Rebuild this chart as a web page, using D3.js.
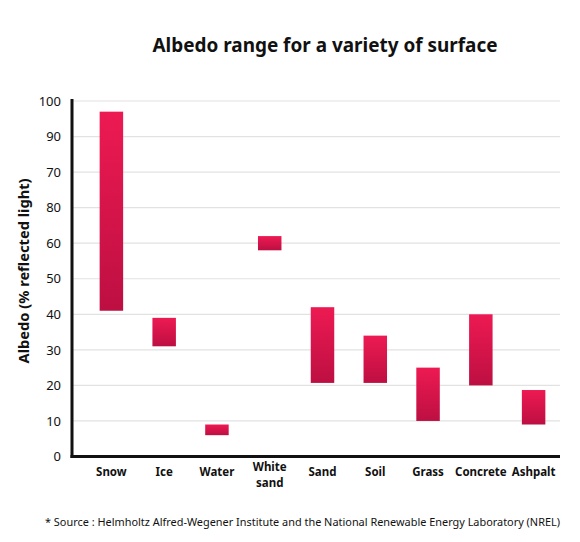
<!DOCTYPE html>
<html>
<head>
<meta charset="utf-8">
<script src="https://cdn.jsdelivr.net/npm/d3@7"></script>
<style>
  body { margin: 0; background: #fff; }
  svg text { font-family: "Noto Sans", "Open Sans", sans-serif; fill: #111; }
</style>
</head>
<body>
<div id="chart"></div>
<script>
// surfaces and their albedo ranges (% reflected light)
const surfaces = ["Snow", "Ice", "Water", "White sand", "Sand", "Soil", "Grass", "Concrete", "Ashpalt"];
const lowValues = [41, 31, 6, 58, 20.7, 20.7, 10, 20, 9];
const highValues = [97, 39, 9, 62, 42, 34, 25, 40, 18.7];

// tick labels exactly as printed on the original (70 and 80 swapped there)
const tickValues = [0, 10, 20, 30, 40, 50, 60, 70, 80, 90, 100];
const tickLabels = ["0", "10", "20", "30", "40", "50", "60", "80", "70", "90", "100"];

const width = 580, height = 542;
const margin = {top: 101, right: 20, bottom: 86, left: 72};

const svg = d3.select("#chart")
  .append("svg")
  .attr("width", width)
  .attr("height", height);

// gradient for the bars
const grad = svg.append("defs").append("linearGradient")
  .attr("id", "barGrad")
  .attr("x1", 0).attr("y1", 0).attr("x2", 0).attr("y2", 1);
grad.append("stop").attr("offset", "0%").attr("stop-color", "#ed1a52");
grad.append("stop").attr("offset", "100%").attr("stop-color", "#bd0f42");

const yScale = d3.scaleLinear()
  .domain([0, 100])
  .range([height - margin.bottom + 0.5, margin.top]);

const xScale = d3.scaleBand()
  .domain(surfaces)
  .range([85, 560])
  .paddingInner(0.555)
  .paddingOuter(0.2775);

// title
svg.append("text")
  .attr("x", 325)
  .attr("y", 52)
  .attr("text-anchor", "middle")
  .attr("font-size", "19.5px")
  .attr("font-weight", "bold")
  .attr("textLength", 345)
  .attr("lengthAdjust", "spacingAndGlyphs")
  .text("Albedo range for a variety of surface");

// gridlines
svg.append("g")
  .selectAll("line")
  .data(tickValues.filter(d => d > 0))
  .enter()
  .append("line")
    .attr("x1", margin.left)
    .attr("x2", 560)
    .attr("y1", d => yScale(d))
    .attr("y2", d => yScale(d))
    .attr("stroke", "#e2e2e2")
    .attr("stroke-width", 1.2);

// y-axis labels
const yAxis = svg.append("g")
  .attr("transform", `translate(${margin.left}, 0)`)
  .call(d3.axisLeft(yScale)
    .tickValues(tickValues)
    .tickSize(0)
    .tickPadding(11)
    .tickFormat((d, i) => tickLabels[i]));
yAxis.select(".domain").remove();
yAxis.selectAll("text")
  .attr("font-size", "13px")
  .attr("font-family", "\"Noto Sans\", sans-serif")
  .attr("fill", "#111");

// bars
svg.selectAll("rect.bar")
  .data(surfaces)
  .enter()
  .append("rect")
    .attr("class", "bar")
    .attr("x", d => xScale(d))
    .attr("width", xScale.bandwidth())
    .attr("y", (d, i) => yScale(highValues[i]))
    .attr("height", (d, i) => yScale(lowValues[i]) - yScale(highValues[i]))
    .attr("fill", "url(#barGrad)");

// axis lines
svg.append("line")
  .attr("x1", margin.left).attr("x2", margin.left)
  .attr("y1", margin.top - 2).attr("y2", yScale(0) + 1.5)
  .attr("stroke", "#111").attr("stroke-width", 3);
svg.append("line")
  .attr("x1", margin.left - 1.5).attr("x2", 560)
  .attr("y1", yScale(0)).attr("y2", yScale(0))
  .attr("stroke", "#111").attr("stroke-width", 3);

// category labels
const xLabels = svg.append("g")
  .selectAll("text")
  .data(surfaces)
  .enter()
  .append("text")
    .attr("x", d => xScale(d) + xScale.bandwidth() / 2)
    .attr("y", 476)
    .attr("text-anchor", "middle")
    .attr("font-size", "11.5px")
    .attr("font-weight", "bold");
xLabels.each(function(d) {
  const words = d.split(" ");
  const t = d3.select(this);
  if (words.length > 1) t.attr("y", 471);
  words.forEach((w, i) => {
    t.append("tspan")
      .attr("x", t.attr("x"))
      .attr("dy", i === 0 ? 0 : 16)
      .text(w);
  });
});

// y-axis title
svg.append("text")
  .attr("transform", "translate(29, 271) rotate(-90)")
  .attr("text-anchor", "middle")
  .attr("font-size", "14px")
  .attr("font-weight", "bold")
  .attr("textLength", 185)
  .attr("lengthAdjust", "spacingAndGlyphs")
  .text("Albedo (% reflected light)");

// source note
svg.append("text")
  .attr("x", 45)
  .attr("y", 526)
  .attr("font-size", "10.5px")
  .attr("fill", "#222")
  .attr("textLength", 515)
  .attr("lengthAdjust", "spacingAndGlyphs")
  .text("* Source : Helmholtz Alfred-Wegener Institute and the National Renewable Energy Laboratory (NREL)");
</script>
</body>
</html>
